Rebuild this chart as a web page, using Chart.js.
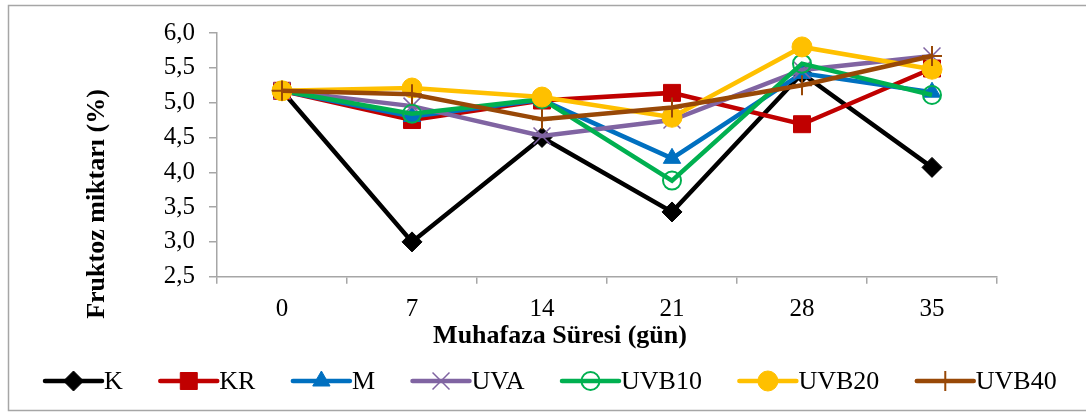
<!DOCTYPE html>
<html>
<head>
<meta charset="utf-8">
<script src="https://cdn.jsdelivr.net/npm/chart.js@4/dist/chart.umd.min.js"></script>
<style>
html, body { margin: 0; padding: 0; background: #fff; }
#wrap { width: 1086px; height: 412px; }
</style>
</head>
<body>
<div id="wrap"><canvas id="myChart" width="1086" height="412"></canvas></div>
<script>
// data
const days = ["0", "7", "14", "21", "28", "35"];
const yTickLabels = ["2,5", "3,0", "3,5", "4,0", "4,5", "5,0", "5,5", "6,0"];
const seriesNames = ["K", "KR", "M", "UVA", "UVB10", "UVB20", "UVB40"];
const kValues     = [5.17, 3.00, 4.50, 3.43, 5.42, 4.07];
const krValues    = [5.17, 4.75, 5.03, 5.14, 4.69, 5.49];
const mValues     = [5.17, 4.80, 5.04, 4.20, 5.42, 5.15];
const uvaValues   = [5.17, 4.95, 4.52, 4.75, 5.47, 5.67];
const uvb10Values = [5.17, 4.84, 5.05, 3.88, 5.56, 5.11];
const uvb20Values = [5.17, 5.21, 5.08, 4.79, 5.80, 5.48];
const uvb40Values = [5.17, 5.12, 4.76, 4.93, 5.25, 5.67];

const xTitle = "Muhafaza Süresi (gün)";
const yTitle = "Fruktoz miktarı (%)";

const serif = "'Liberation Serif', 'Times New Roman', serif";

function ds(i, data, color, style, radius, fill, bw) {
  return {
    label: seriesNames[i],
    data: data,
    borderColor: color,
    backgroundColor: color,
    borderWidth: 4.5,
    tension: 0,
    pointStyle: style,
    pointRadius: radius,
    pointHoverRadius: radius,
    pointBackgroundColor: fill,
    pointBorderColor: color,
    pointBorderWidth: bw,
    order: 7 - i
  };
}

const datasets = [
  ds(0, kValues, "#000000", "rectRot", 10, "#000000", 1),
  ds(1, krValues, "#C00000", "rect", 12, "#C00000", 1),
  ds(2, mValues, "#0070C0", "triangle", 10, "#0070C0", 1),
  ds(3, uvaValues, "#8064A2", "crossRot", 12, "#8064A2", 1.5),
  ds(4, uvb10Values, "#00B050", "circle", 9, "rgba(0,0,0,0)", 2),
  ds(5, uvb20Values, "#FFC000", "circle", 10, "#FFC000", 1),
  ds(6, uvb40Values, "#984807", "cross", 10, "#984807", 2)
];

// frame, axis titles and legend
const extras = {
  id: "extras",
  beforeDraw(chart) {
    const ctx = chart.ctx;
    ctx.save();
    ctx.fillStyle = "#fff";
    ctx.fillRect(0, 0, chart.width, chart.height);
    ctx.restore();
  },
  afterDraw(chart) {
    const ctx = chart.ctx;
    ctx.save();
    ctx.strokeStyle = "#a6a6a6";
    ctx.lineWidth = 1.5;
    ctx.strokeRect(8.5, 5.5, chart.width + 20, 405);

    ctx.fillStyle = "#000";
    ctx.font = "bold 26px " + serif;
    ctx.textAlign = "center";
    ctx.textBaseline = "middle";
    ctx.fillText(xTitle, 560, 336);

    ctx.translate(97, 204);
    ctx.rotate(-Math.PI / 2);
    ctx.fillText(yTitle, 0, 0);
    ctx.restore();

    // legend
    ctx.save();
    ctx.font = "26px " + serif;
    ctx.textBaseline = "middle";
    ctx.textAlign = "left";
    let x = 45;
    const y = 381;
    chart.data.datasets.forEach(function (d) {
      ctx.strokeStyle = d.borderColor;
      ctx.lineWidth = 4.5;
      ctx.lineCap = "round";
      ctx.beginPath();
      ctx.moveTo(x, y);
      ctx.lineTo(x + 57, y);
      ctx.stroke();
      ctx.lineCap = "butt";
      ctx.fillStyle = d.pointBackgroundColor;
      ctx.lineWidth = d.pointBorderWidth;
      if (Chart.helpers && Chart.helpers.drawPoint) {
        Chart.helpers.drawPoint(ctx, { pointStyle: d.pointStyle, radius: d.pointRadius, rotation: 0, borderWidth: d.pointBorderWidth }, x + 28.5, y);
      }
      ctx.fillStyle = "#000";
      ctx.fillText(d.label, x + 59, y + 1);
      x += 59 + ctx.measureText(d.label).width + 37.5;
    });
    ctx.restore();
  }
};

new Chart("myChart", {
  type: "line",
  data: {
    labels: days,
    datasets: datasets
  },
  options: {
    responsive: false,
    animation: false,
    layout: { padding: { left: 0, right: 89, top: 33, bottom: 0 } },
    scales: {
      x: {
        type: "category",
        offset: true,
        grid: { offset: true, drawOnChartArea: false, drawTicks: true, tickLength: 7, color: "#a6a6a6", lineWidth: 1.5 },
        border: { color: "#a6a6a6", width: 1.5 },
        ticks: { color: "#000", font: { family: serif, size: 25 }, padding: 11, maxRotation: 0 },
        afterFit: function (s) { s.height = 135.3; }
      },
      y: {
        min: 2.5,
        max: 6.0,
        grid: { drawOnChartArea: false, drawTicks: true, tickLength: 8, color: "#a6a6a6", lineWidth: 1.5 },
        border: { color: "#a6a6a6", width: 1.5 },
        ticks: {
          stepSize: 0.5,
          color: "#000",
          font: { family: serif, size: 25 },
          padding: 14,
          callback: function (v, i) { return yTickLabels[i]; }
        },
        afterFit: function (s) { s.width = 217; }
      }
    },
    plugins: {
      legend: { display: false },
      tooltip: { enabled: false }
    }
  },
  plugins: [extras]
});
</script>
</body>
</html>
